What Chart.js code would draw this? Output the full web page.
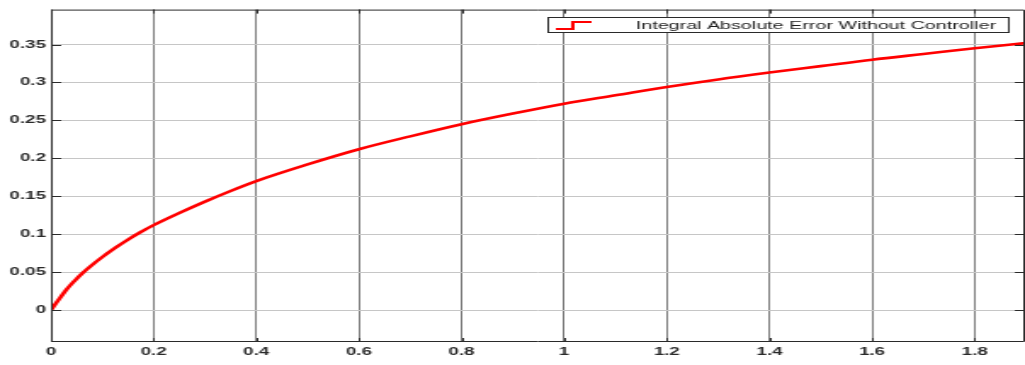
<!DOCTYPE html>
<html><head><meta charset="utf-8">
<script src="https://cdn.jsdelivr.net/npm/chart.js@4/dist/chart.umd.min.js"></script>
<style>
html,body{margin:0;padding:0;background:#fff;overflow:hidden;}
#wrap{width:603px;height:365px;transform:scaleX(1.6998);transform-origin:0 0;}
canvas{display:block;}
</style></head><body>
<div id="wrap"><canvas id="c" width="603" height="365"></canvas></div>
<script>
const timeValues = [0, 0.01, 0.02, 0.03, 0.045, 0.06, 0.08, 0.1, 0.125, 0.15, 0.175, 0.2, 0.25, 0.3, 0.35, 0.4, 0.5, 0.6, 0.7, 0.8, 0.9, 1.0, 1.1, 1.2, 1.3, 1.4, 1.5, 1.6, 1.7, 1.8, 1.9];
const iaeValues  = [0, 0.0093, 0.0183, 0.027, 0.038, 0.048, 0.0595, 0.070, 0.082, 0.093, 0.103, 0.112, 0.128, 0.143, 0.157, 0.170, 0.192, 0.212, 0.229, 0.245, 0.259, 0.272, 0.283, 0.294, 0.304, 0.313, 0.3215, 0.330, 0.3375, 0.345, 0.352];
const xTickValues = [0, 0.2, 0.4, 0.6, 0.8, 1.0, 1.2, 1.4, 1.6, 1.8];
const xTickLabels = ['0', '0.2', '0.4', '0.6', '0.8', '1', '1.2', '1.4', '1.6', '1.8'];
const yTickValues = [0, 0.05, 0.1, 0.15, 0.2, 0.25, 0.3, 0.35];
const yTickLabels = ['0', '0.05', '0.1', '0.15', '0.2', '0.25', '0.3', '0.35'];
const seriesLabel = 'Integral Absolute Error Without Controller';

const points = timeValues.map((t, i) => ({x: t, y: iaeValues[i]}));

const framePlugin = {
  id: 'frame',
  afterDatasetsDraw(chart) {
    const {ctx, chartArea: a, scales: {x, y}} = chart;
    ctx.save();
    ctx.strokeStyle = '#2a2a2a';
    ctx.lineWidth = 1;
    ctx.beginPath();
    ctx.rect(a.left + 0.5, a.top + 0.5, a.right - a.left - 1, a.bottom - a.top - 1);
    ctx.stroke();
    ctx.beginPath();
    xTickValues.forEach(v => {
      const px = Math.round(x.getPixelForValue(v)) + 0.5;
      ctx.moveTo(px, a.bottom); ctx.lineTo(px, a.bottom - 4);
      ctx.moveTo(px, a.top); ctx.lineTo(px, a.top + 4);
    });
    yTickValues.forEach(v => {
      const py = Math.round(y.getPixelForValue(v)) + 0.5;
      ctx.moveTo(a.left, py); ctx.lineTo(a.left + 6, py);
      ctx.moveTo(a.right, py); ctx.lineTo(a.right - 6, py);
    });
    ctx.stroke();
    ctx.restore();
  }
};

const legendPlugin = {
  id: 'boxLegend',
  afterDraw(chart) {
    const ctx = chart.ctx;
    ctx.save();
    ctx.fillStyle = '#fff';
    ctx.fillRect(322, 17, 271, 15);
    ctx.strokeStyle = '#2a2a2a';
    ctx.lineWidth = 1;
    ctx.strokeRect(322.5, 17.5, 271, 15);
    ctx.strokeStyle = '#ff0000';
    ctx.lineWidth = 2;
    ctx.beginPath();
    ctx.moveTo(327, 29); ctx.lineTo(337, 29); ctx.lineTo(337, 22); ctx.lineTo(348, 22);
    ctx.stroke();
    ctx.fillStyle = '#1e1e1e';
    ctx.font = '11.6px "Liberation Sans", Arial, sans-serif';
    ctx.textBaseline = 'middle';
    ctx.fillText(seriesLabel, 374, 25.5);
    ctx.restore();
  }
};

new Chart(document.getElementById('c'), {
  type: 'line',
  data: {
    datasets: [{
      label: seriesLabel,
      data: points,
      borderColor: '#ff0000',
      borderWidth: 2.6,
      pointRadius: 0,
      fill: false,
      cubicInterpolationMode: 'monotone'
    }]
  },
  options: {
    responsive: false,
    animation: false,
    devicePixelRatio: 1,
    layout: {padding: {top: 7, right: 0, left: 0, bottom: 0}},
    plugins: {legend: {display: false}, tooltip: {enabled: false}},
    scales: {
      x: {
        type: 'linear', min: 0, max: 1.898,
        afterBuildTicks: s => { s.ticks = xTickValues.map(v => ({value: v})); },
        afterFit: s => { s.height = 23; },
        ticks: {
          callback: (v, i) => xTickLabels[i],
          color: '#2a2a2a', padding: 3, maxRotation: 0, autoSkip: false,
          font: {family: '"Liberation Sans", Arial, sans-serif', size: 11, weight: 'bold'}
        },
        grid: {color: '#7a7a7a', lineWidth: 1, drawTicks: false},
        border: {display: false}
      },
      y: {
        type: 'linear', min: -0.042, max: 0.396,
        afterBuildTicks: s => { s.ticks = yTickValues.map(v => ({value: v})); },
        afterFit: s => { s.width = 30; },
        ticks: {
          callback: (v, i) => yTickLabels[i],
          color: '#2a2a2a', padding: 3, autoSkip: false,
          font: {family: '"Liberation Sans", Arial, sans-serif', size: 11, weight: 'bold'}
        },
        grid: {color: '#c6c6c6', lineWidth: 1, drawTicks: false},
        border: {display: false}
      }
    }
  },
  plugins: [framePlugin, legendPlugin]
});
</script>
</body></html>
